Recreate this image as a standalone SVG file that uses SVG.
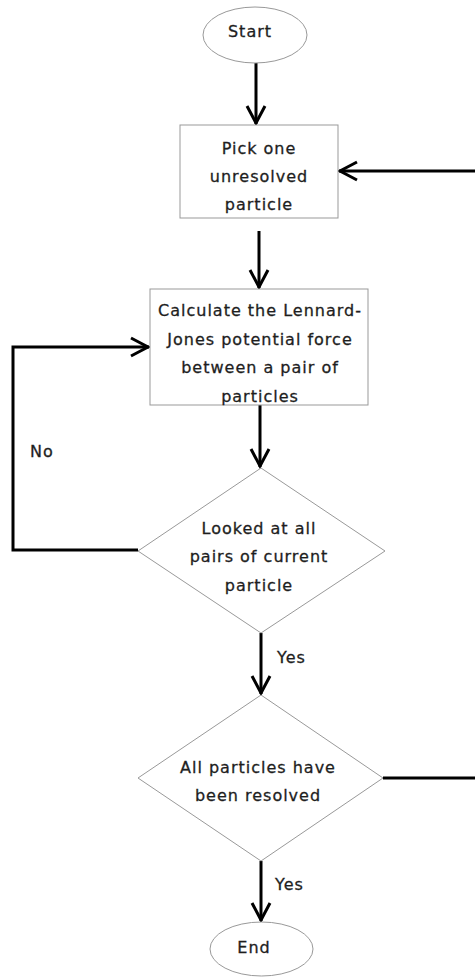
<svg xmlns="http://www.w3.org/2000/svg" width="475" height="978" viewBox="0 0 475 978">
  <style>
    .node { fill: #ffffff; stroke: #999999; stroke-width: 1; }
    .label { font-family: "DejaVu Sans", "Liberation Sans", sans-serif; font-size: 16px; letter-spacing: 1px; fill: #1e1e1e; stroke: #1e1e1e; stroke-width: 0.3; text-anchor: middle; }
    .edge-label { font-family: "DejaVu Sans", "Liberation Sans", sans-serif; font-size: 16px; letter-spacing: 1px; fill: #1e1e1e; stroke: #1e1e1e; stroke-width: 0.3; }
    .edge { fill: none; stroke: #000000; stroke-width: 3; marker-end: url(#arrow); }
  </style>
  <defs>
    <marker id="arrow" markerUnits="userSpaceOnUse" viewBox="-22 -12 26 24" markerWidth="26" markerHeight="24" refX="0" refY="0" orient="auto">
      <path d="M-18,-9 L-1,0 L-18,9" fill="none" stroke="#000000" stroke-width="3" stroke-linejoin="miter"/>
    </marker>
  </defs>
  <rect width="475" height="978" fill="#ffffff"/>

  <!-- connectors -->
  <g id="connectors">
    <path class="edge" d="M256,63 L256,124"/>
    <path class="edge" d="M259,231 L259,288"/>
    <path class="edge" d="M260,405 L260,467"/>
    <path class="edge" d="M138,550 L13,550 L13,347 L149,347"/>
    <path class="edge" d="M261,633 L261,694"/>
    <path class="edge" d="M383,778 L478,778 L478,171 L339,171"/>
    <path class="edge" d="M261,861 L261,921"/>
    <text class="edge-label" x="30" y="457">No</text>
    <text class="edge-label" x="277" y="663">Yes</text>
    <text class="edge-label" x="275" y="890">Yes</text>
  </g>

  <!-- nodes -->
  <g id="start">
    <ellipse class="node" cx="255" cy="35" rx="52" ry="28"/>
    <text class="label" x="250" y="37">Start</text>
  </g>

  <g id="pick-particle">
    <rect class="node" x="180" y="125" width="158" height="93"/>
    <text class="label" x="259" y="154">Pick one</text>
    <text class="label" x="259" y="182">unresolved</text>
    <text class="label" x="259" y="210">particle</text>
  </g>

  <g id="calc-force">
    <rect class="node" x="150" y="289" width="218" height="116"/>
    <text class="label" x="260" y="316">Calculate the Lennard-</text>
    <text class="label" x="260" y="344.5">Jones potential force</text>
    <text class="label" x="260" y="373">between a pair of</text>
    <text class="label" x="260" y="401.5">particles</text>
  </g>

  <g id="all-pairs">
    <polygon class="node" points="261,468 385,551 261,633 138,551"/>
    <text class="label" x="259" y="534">Looked at all</text>
    <text class="label" x="259" y="562">pairs of current</text>
    <text class="label" x="259" y="591">particle</text>
  </g>

  <g id="all-resolved">
    <polygon class="node" points="261,695 383,778 261,861 138,778"/>
    <text class="label" x="258" y="773">All particles have</text>
    <text class="label" x="258" y="801">been resolved</text>
  </g>

  <g id="end">
    <ellipse class="node" cx="261.5" cy="949" rx="51.5" ry="27"/>
    <text class="label" x="254" y="953">End</text>
  </g>
</svg>
